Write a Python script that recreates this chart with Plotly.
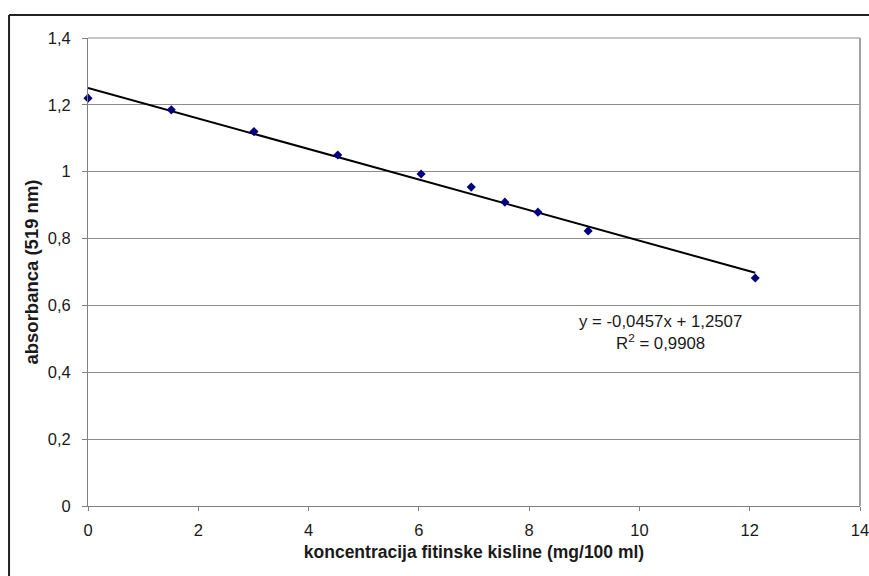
import numpy as np
import plotly.graph_objects as go

# data
conc = [0.0, 1.51, 3.01, 4.53, 6.04, 6.95, 7.56, 8.16, 9.07, 12.10]
absorb = [1.220, 1.185, 1.120, 1.050, 0.993, 0.954, 0.909, 0.879, 0.823, 0.682]
slope = -0.0457
intercept = 1.2507
r2_label = "0,9908"
eq_label = "y = -0,0457x + 1,2507"

x_title = "koncentracija fitinske kisline (mg/100 ml)"
y_title = "absorbanca (519 nm)"

line_x = np.array([min(conc), max(conc)])
line_y = slope * line_x + intercept

fig = go.Figure()
fig.add_trace(go.Scatter(x=line_x, y=line_y, mode="lines",
                         line=dict(color="black", width=2), showlegend=False,
                         hoverinfo="skip"))
fig.add_trace(go.Scatter(x=conc, y=absorb, mode="markers",
                         marker=dict(symbol="diamond", size=7, color="#000080"),
                         showlegend=False, cliponaxis=False))

font = "Liberation Sans, Arial, sans-serif"
fig.update_layout(
    width=869, height=576,
    margin=dict(l=88, r=9, t=38, b=70, autoexpand=False),
    paper_bgcolor="white", plot_bgcolor="white",
    separators=",.",
    font=dict(family=font, size=16.5, color="#1a1a1a"),
    xaxis=dict(range=[0, 14], tick0=0, dtick=2, showgrid=False,
               showline=True, linecolor="#808080", linewidth=1, mirror=False,
               ticks="outside", ticklen=4, tickcolor="#808080",
               ticklabelstandoff=5, automargin=False,
               ticklabeloverflow="allow",
               tickfont=dict(size=16.5),
               title=dict(text="<b>" + x_title + "</b>", standoff=7,
                          font=dict(size=17.5, family=font, color="#1a1a1a")),
               zeroline=False, fixedrange=True),
    yaxis=dict(range=[0, 1.4], tick0=0, dtick=0.2, showgrid=True,
               gridcolor="#8c8c8c", gridwidth=1,
               showline=True, linecolor="#808080", linewidth=1,
               ticks="outside", ticklen=5, tickcolor="#808080",
               ticklabelstandoff=8, automargin=False,
               tickfont=dict(size=16.5),
               title=dict(text="<b>" + y_title + "</b>", standoff=4,
                          font=dict(size=18.5, family=font, color="#1a1a1a")),
               zeroline=False, fixedrange=True),
    shapes=[
        # plot frame (top and right)
        dict(type="line", xref="paper", yref="paper", x0=0, x1=1, y0=1, y1=1,
             line=dict(color="#8c8c8c", width=1)),
        dict(type="line", xref="paper", yref="paper", x0=1, x1=1, y0=0, y1=1,
             line=dict(color="#a0a0a0", width=2)),
        # outer chart border (left and top)
        dict(type="line", xref="paper", yref="paper", x0=-0.1023, x1=-0.1023,
             y0=1.049, y1=-0.2, line=dict(color="#222222", width=2)),
        dict(type="line", xref="paper", yref="paper", x0=-0.1023, x1=1.03,
             y0=1.049, y1=1.049, line=dict(color="#222222", width=2)),
    ],
    annotations=[
        dict(x=10.39, y=0.52, xref="x", yref="y", showarrow=False,
             text=eq_label + "<br>R<sup>2</sup> = " + r2_label,
             font=dict(size=16.8, family=font, color="#1a1a1a"), align="center"),
    ],
)

fig.write_html("out.html", config={"displayModeBar": False},
               post_script="document.body.style.margin='0';document.body.style.overflow='hidden';")
